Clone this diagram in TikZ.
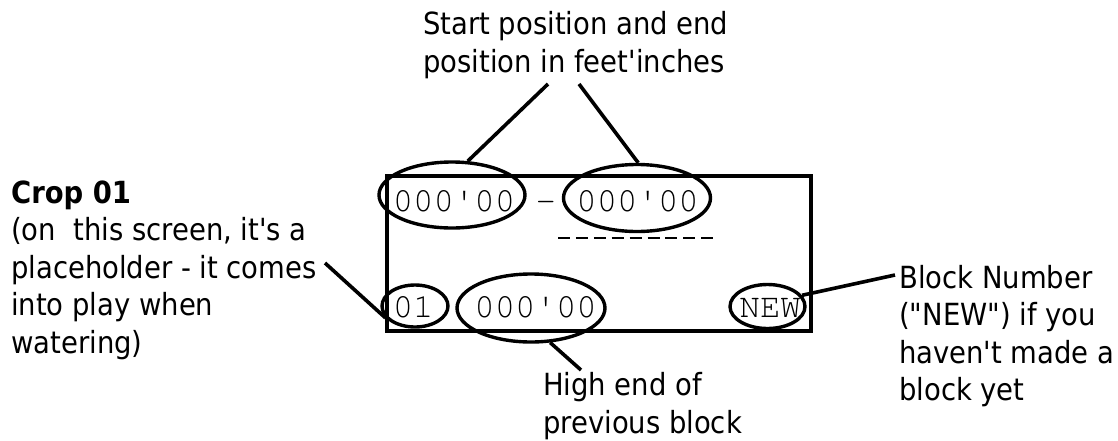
\documentclass[tikz,border=0pt]{standalone}
\usepackage{fontspec}
\usetikzlibrary{shapes.geometric}
\newfontfamily\labelfont{DejaVu Sans Condensed}
\newfontfamily\lcdfont{TeX Gyre Cursor}
% multi-line labels are anchored at the baseline of their last line
\tikzset{
  label text/.style={inner sep=0pt, anchor=base west, align=left,
    font=\labelfont\fontsize{30.5}{37.5}\selectfont},
  lcd text/.style={inner sep=0pt, anchor=base west,
    font=\lcdfont\fontsize{34}{34}\selectfont},
  ring/.style={ellipse, draw, line width=3.4pt, inner sep=0pt},
  pointer/.style={line width=3.6pt},
  frame/.style={line width=3.6pt},
}
\begin{document}
\begin{tikzpicture}[x=1pt, y=-1pt]
  \useasboundingbox (0,0) rectangle (1118,440);

  % display frame
  \draw[frame] (387,176) rectangle (811,331);

  % display contents, laid out on a 20-column character grid
  \node[lcd text] (s1) at (392.6,211) {000\textquotesingle 00};
  \node[lcd text] (sep) at (535.4,211) {-};
  \node[lcd text] (s2) at (576.2,211) {000\textquotesingle 00};
  \coordinate (ul1) at (558,238);
  \coordinate (ul2) at (713,238);
  \draw[line width=1.6pt, dash pattern=on 12pt off 5.9pt] (ul1) -- (ul2);
  \node[lcd text] (crop) at (392.6,317) {01};
  \node[lcd text] (prev) at (474.2,317) {000\textquotesingle 00};
  \node[lcd text] (num) at (739.4,317) {NEW};

  % highlight rings
  \node[ring, minimum width=146pt, minimum height=66pt] (e1) at (452,195) {};
  \node[ring, minimum width=147pt, minimum height=67pt] (e2) at (637,198) {};
  \node[ring, minimum width=66pt, minimum height=42pt] (e3) at (415,306) {};
  \node[ring, minimum width=148pt, minimum height=68pt] (e4) at (531,308) {};
  \node[ring, minimum width=75pt, minimum height=44pt] (e5) at (767.5,306.5) {};

  % callout texts
  \node[label text] (tstart) at (423,72)
    {Start position and end\\position in feet\textquotesingle inches};
  \node[label text] (tcrop) at (11,353)
    {\textbf{Crop 01}\\(on\ \ this screen, it\textquotesingle s a\\placeholder - it comes\\into play when\\watering)};
  \node[label text] (thigh) at (543,433)
    {High end of\\previous block};
  \node[label text] (tblock) at (899,400.5)
    {Block Number\\("NEW") if you\\haven\textquotesingle t made a\\block yet};

  % pointer lines
  \coordinate (p1) at (548,84);
  \coordinate (p2) at (579,84);
  \coordinate (p3) at (325,263);
  \coordinate (p4) at (581,370);
  \coordinate (p5) at (895,275);
  \draw[pointer] (p1) -- (e1.65);
  \draw[pointer] (p2) -- (e2.88);
  \draw[pointer] (p3) -- (e3.202);
  \draw[pointer] (p4) -- (e4.299);
  \draw[pointer] (p5) -- (e5.18);
\end{tikzpicture}
\end{document}
